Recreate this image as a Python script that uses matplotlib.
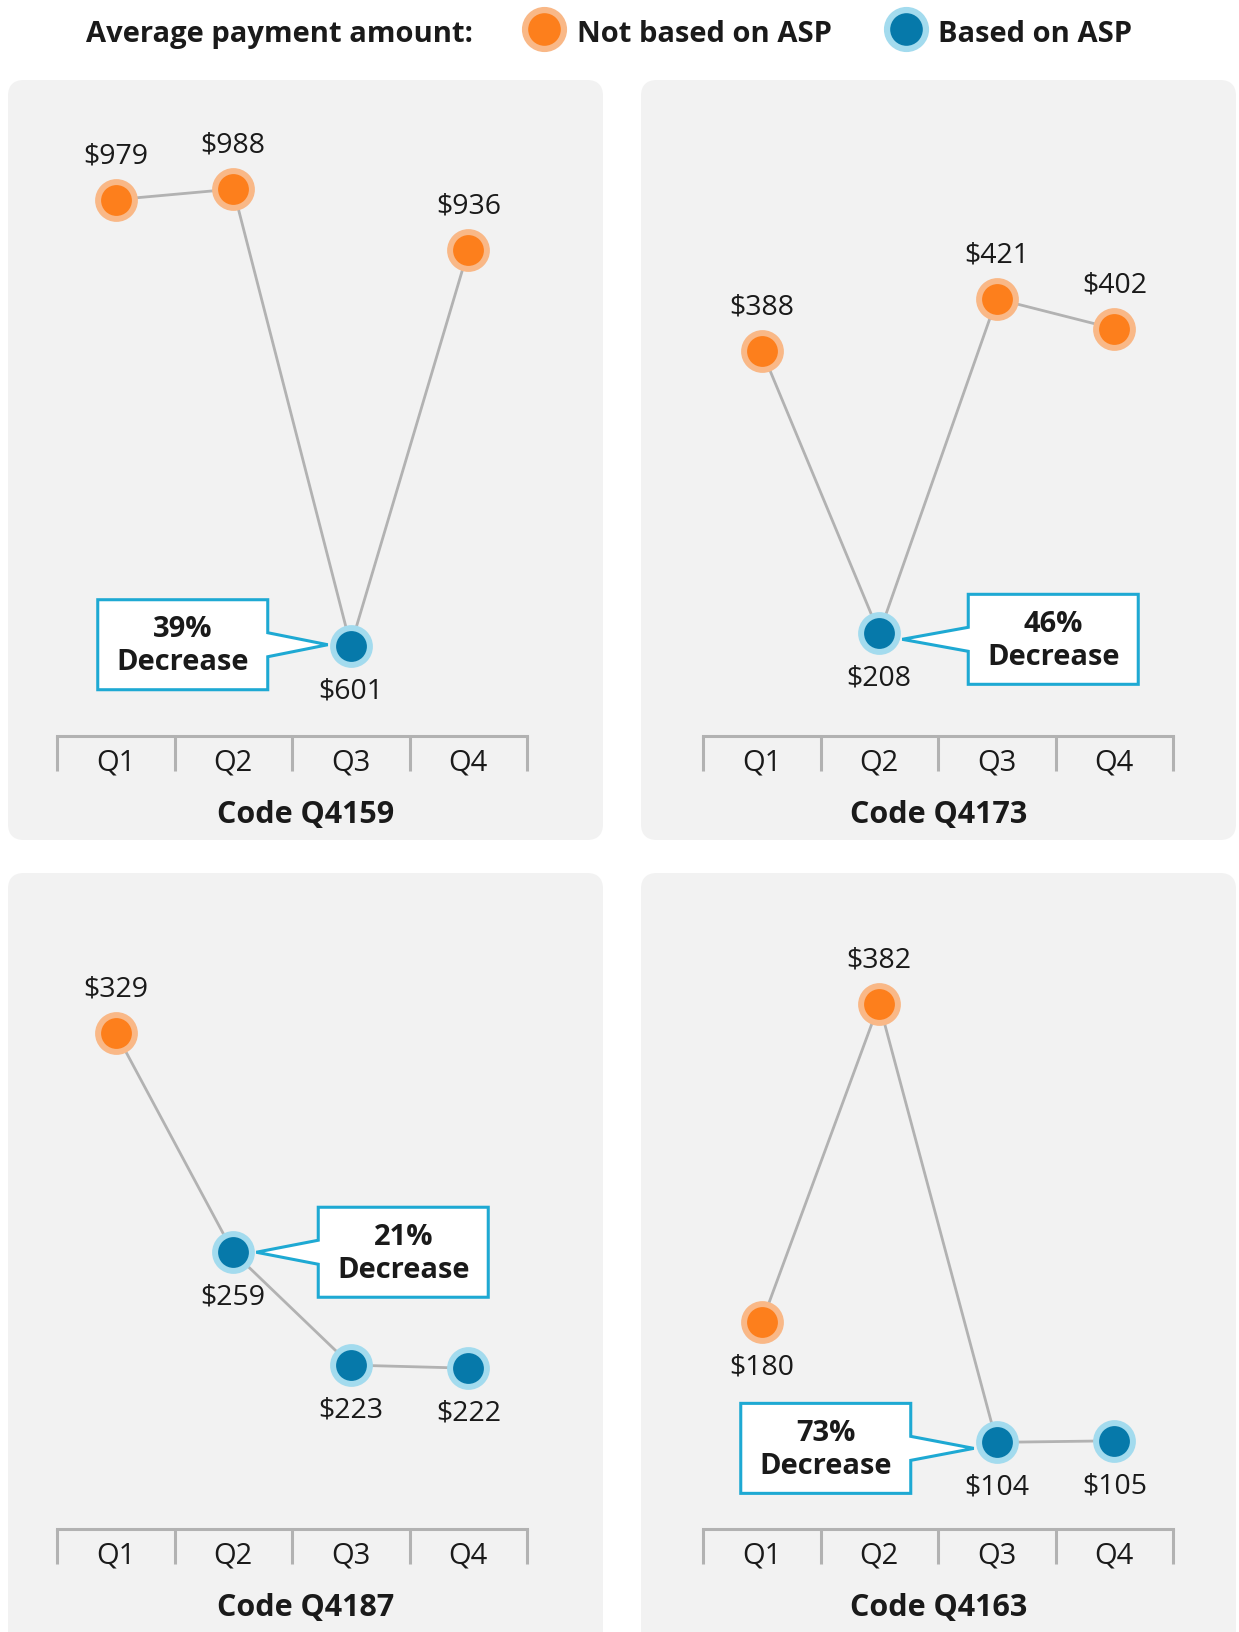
import numpy as np
import matplotlib.pyplot as plt
from matplotlib.patches import FancyBboxPatch, Polygon
from matplotlib.transforms import ScaledTranslation

plt.rcParams['font.family'] = ['Open Sans', 'DejaVu Sans']

# data
quarters = ['Q1', 'Q2', 'Q3', 'Q4']
codes = ['Q4159', 'Q4173', 'Q4187', 'Q4163']

pay_q4159 = [979, 988, 601, 936]
pay_q4173 = [388, 208, 421, 402]
pay_q4187 = [329, 259, 223, 222]
pay_q4163 = [180, 382, 104, 105]
payments = [pay_q4159, pay_q4173, pay_q4187, pay_q4163]

asp_q4159 = [False, False, True, False]
asp_q4173 = [False, True, False, False]
asp_q4187 = [False, True, True, True]
asp_q4163 = [False, False, True, True]
asp_based = [asp_q4159, asp_q4173, asp_q4187, asp_q4163]

decrease_pct = [39, 46, 21, 73]
decrease_at = [2, 1, 1, 2]   # quarter the callout points to

# colours
ORANGE, ORANGE_RING = '#fd7f1c', '#f9b887'
BLUE, BLUE_RING = '#0679aa', '#a3dbee'
GRAY = '#b2b2b2'
PANEL = '#f2f2f2'
CYAN = '#1ea9d3'
TXT = '#1a1a1a'

# layout (pixels, y down)
W, H = 1239, 1633
panel_x = [(8, 603), (641, 1236)]
panel_y = [(81, 841), (874, 1650)]
axis_x = [(57, 527), (703, 1173)]
axis_y = [(81, 737), (874, 1530)]
ylims = [(524.5, 1080.4), (142.6, 560.4), (170.7, 380.0), (49.1, 464.8)]
label_above = [[1, 1, 0, 1], [1, 0, 1, 1], [1, 0, 0, 0], [0, 1, 0, 0]]
callout_side = ['left', 'right', 'right', 'left']
callout_dy = [-1, 6, 0, 6]
callout_gap = [83, 89, 85, 86]

fig = plt.figure(figsize=(W / 100, H / 100), dpi=100)
bg = fig.add_axes([0, 0, 1, 1])
bg.set_xlim(0, W)
bg.set_ylim(H, 0)
bg.axis('off')

# legend
bg.text(86, 42, 'Average payment amount:', fontsize=21, fontweight='bold',
        color=TXT, va='baseline', ha='left')
bg.plot(544, 29.5, 'o', ms=28, mfc=ORANGE, mec=ORANGE_RING, mew=4.5)
bg.text(577, 42, 'Not based on ASP', fontsize=21, fontweight='bold',
        color=TXT, va='baseline', ha='left')
bg.plot(905.5, 29.5, 'o', ms=28, mfc=BLUE, mec=BLUE_RING, mew=4.5)
bg.text(938, 42, 'Based on ASP', fontsize=21, fontweight='bold',
        color=TXT, va='baseline', ha='left')


def callout_poly(side, dy, gap):
    s = -1 if side == 'left' else 1
    far = gap + 170
    pts = [(far, dy - 45), (gap, dy - 45), (gap, dy - 12), (23, dy),
           (gap, dy + 12), (gap, dy + 45), (far, dy + 45)]
    return [(s * x / 100, -y / 100) for x, y in pts]


for k in range(4):
    r, c = divmod(k, 2)
    px0, px1 = panel_x[c]
    py0, py1 = panel_y[r]
    bg.add_patch(FancyBboxPatch((px0, py0), px1 - px0, py1 - py0,
                                boxstyle='round,pad=0,rounding_size=16',
                                fc=PANEL, ec='none'))
    bg.text((px0 + px1) / 2, axis_y[r][1] + 86, 'Code ' + codes[k],
            fontsize=22, fontweight='bold', color=TXT,
            ha='center', va='baseline')

    ax0, ax1 = axis_x[c]
    ay0, ay1 = axis_y[r]
    ax = fig.add_axes([ax0 / W, 1 - ay1 / H, (ax1 - ax0) / W, (ay1 - ay0) / H])
    ax.set_facecolor('none')
    ax.set_xlim(-0.5, 3.5)
    ax.set_ylim(*ylims[k])
    for sp in ['top', 'left', 'right']:
        ax.spines[sp].set_visible(False)
    ax.spines['bottom'].set_color(GRAY)
    ax.spines['bottom'].set_linewidth(2.2)
    ax.set_yticks([])
    ax.set_xticks(range(4))
    ax.set_xticklabels(quarters)
    ax.set_xticks(np.arange(-0.5, 4, 1), minor=True)
    ax.tick_params(axis='x', which='major', length=0, pad=8,
                   labelsize=21, labelcolor=TXT)
    ax.tick_params(axis='x', which='minor', length=25, width=2.2,
                   color=GRAY, direction='out')

    vals = payments[k]
    xs = np.arange(len(vals))
    ax.plot(xs, vals, color=GRAY, lw=2, zorder=1, clip_on=False)
    for i, v in enumerate(vals):
        if asp_based[k][i]:
            fc, ec = BLUE, BLUE_RING
        else:
            fc, ec = ORANGE, ORANGE_RING
        ax.plot(i, v, 'o', ms=26.5, mfc=fc, mec=ec, mew=4.3,
                zorder=3, clip_on=False)
        dy = 27 if label_above[k][i] else -37
        ax.annotate(f'${v}', (i, v), xytext=(0, dy), textcoords='offset points',
                    ha='center', va='baseline', fontsize=20.5, color=TXT)

    # callout box
    j = decrease_at[k]
    tr = fig.dpi_scale_trans + ScaledTranslation(j, vals[j], ax.transData)
    side, cdy, gap = callout_side[k], callout_dy[k], callout_gap[k]
    ax.add_patch(Polygon(callout_poly(side, cdy, gap), closed=True, fc='white',
                         ec=CYAN, lw=2.2, transform=tr, clip_on=False,
                         zorder=4, joinstyle='miter'))
    s = -1 if side == 'left' else 1
    cx = s * (gap + 85) / 100
    ax.text(cx, -(cdy - 16) / 100, f'{decrease_pct[k]}%', transform=tr,
            ha='center', va='center', fontsize=21, fontweight='bold',
            color=TXT, zorder=5)
    ax.text(cx, -(cdy + 17) / 100, 'Decrease', transform=tr,
            ha='center', va='center', fontsize=21, fontweight='bold',
            color=TXT, zorder=5)

fig.savefig('out.png', dpi=100, facecolor='white')
